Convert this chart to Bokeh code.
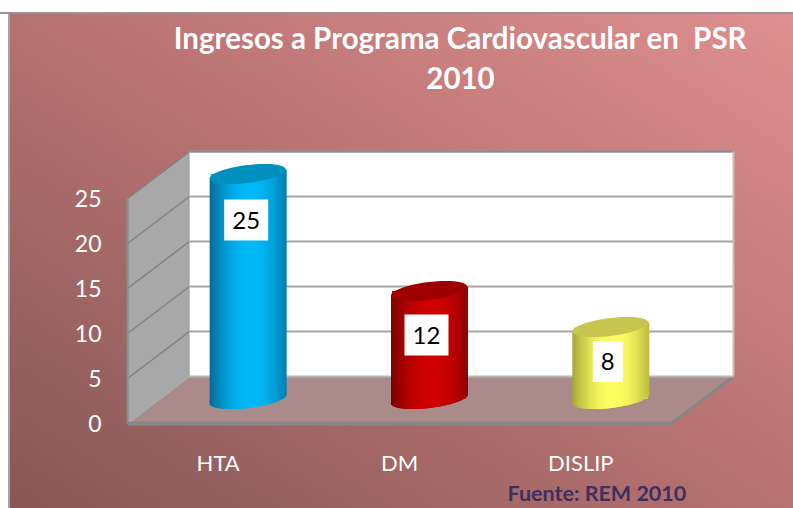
import numpy as np
from bokeh.embed import file_html
from bokeh.resources import INLINE
from bokeh.plotting import figure
from bokeh.models import LinearAxis, FixedTicker, Range1d, Title
from bokeh.core.properties import value

# ---- chart data ----
categories = ["HTA", "DM", "DISLIP"]
ingresos = [25, 12, 8]
y_ticks = [0, 5, 10, 15, 20, 25]
title_lines = ["Ingresos a Programa Cardiovascular en \u00a0PSR", "2010"]
source_note = "Fuente: REM 2010"

# ---- styles ----
edge_colors = [(6, 105, 150), (120, 0, 0), (165, 165, 55)]
lit_colors = [(0, 186, 248), (208, 0, 0), (255, 255, 98)]
cap_colors = ["#0090BE", "#9E0000", "#C6C650"]
label_drop = [2.4, 2.17, 1.11]
label_shift_px = [-1.5, -2.5, -2.5]
label_w_px = [44, 44, 30]
FONT = "Lato"

# ---- pixel scales of the pseudo 3D box ----
UX = 544 / 3      # px per category
UY = 9.0          # px per value unit
DX = 62 / UX      # depth in x units
DY = 47 / UY      # depth in value units
W, H = 793, 508
LEFT, RIGHT, TOP, BOTTOM = 127, W, 14, 423

x_start, y_start = -0.5, 0.0
x_end = x_start + (RIGHT - LEFT) / UX
y_end = (BOTTOM - TOP) / UY
n = len(categories)
x_front_end = x_start + n
y_max = max(y_ticks)

gradient = ("linear-gradient(#fff 0 12px,#949494 12px 14px,transparent 14px),"
            "linear-gradient(to right,#fff 0 8px,#a4a4a4 8px 10px,transparent 10px),"
            "linear-gradient(to top right,#855755 0%,#B67271 50%,#E09090 100%)")

p = figure(width=W, height=H, x_axis_type=None, y_axis_type=None,
           x_range=Range1d(x_start, x_end), y_range=Range1d(y_start, y_end),
           output_backend="svg", toolbar_location=None,
           min_border_left=LEFT, min_border_right=W - RIGHT,
           min_border_top=TOP, min_border_bottom=H - BOTTOM,
           border_fill_color=None, background_fill_color=None,
           outline_line_color=None)
p.styles = {"background": gradient}
p.grid.visible = False

# floor
p.patch([x_start, x_start + DX, x_front_end + DX, x_front_end],
        [0, DY, DY, 0], fill_color="#AB8B89", line_color=None)
# right lip of the floor
p.line([x_front_end, x_front_end + DX], [0, DY], line_color="#8A8583", line_width=3)
# left wall
p.patch([x_start, x_start + DX, x_start + DX, x_start],
        [0, DY, y_max + DY, y_max], fill_color="#A8A8A8", line_color="#8C8C8C", line_width=1.5)
# back wall
p.patch([x_start + DX, x_front_end + DX, x_front_end + DX, x_start + DX],
        [DY, DY, y_max + DY, y_max + DY], fill_color="#FFFFFF", line_color=None)
# walls' gridlines
grid_vals = [t for t in y_ticks if t > 0]
p.segment([x_start] * len(grid_vals), grid_vals, [x_start + DX] * len(grid_vals),
          [t + DY for t in grid_vals], line_color="#808080", line_width=1.3)
p.segment([x_start + DX] * len(grid_vals), [t + DY for t in grid_vals],
          [x_front_end + DX] * len(grid_vals), [t + DY for t in grid_vals],
          line_color="#A6A6A6", line_width=2)
p.line([x_start + DX, x_front_end + DX], [y_max + DY, y_max + DY], line_color="#8C8C8C", line_width=2)
p.line([x_front_end + DX, x_front_end + DX], [DY, y_max + DY], line_color="#D4B8B8", line_width=2)
p.line([x_start, x_start + DX], [0, DY], line_color="#B0B0B0", line_width=1.5)
p.line([x_start + DX, x_front_end + DX], [DY, DY], line_color="#B8B8B8", line_width=2)

# cylinders
A_PX, B_PX, S_PX = 38.0, 9.0, 4.5
cols = np.arange(-A_PX, A_PX, 1.0)
for i, v in enumerate(ingresos):
    cx = i + (DX - 3 / UX) / 2
    t = (cols + 0.5) / A_PX
    shade = np.clip(1 - (np.abs(t - 0.08) / 1.08) ** 2.0, 0, 1)
    e, l = np.array(edge_colors[i]), np.array(lit_colors[i])
    colors = ["#%02x%02x%02x" % tuple(int(c) for c in e + (l - e) * s) for s in shade]
    base = DY / 2 + 1 / UY
    upper = base + v + S_PX * t / UY
    lower = base + (S_PX * t - B_PX * np.sqrt(1 - t ** 2)) / UY
    # opaque backing so that nothing shows through the strips' soft edges
    p.quad(left=[cx + cols[1] / UX], right=[cx + (cols[-1]) / UX], top=[base + v], bottom=[base],
           fill_color=colors[len(colors) // 2], line_color=None, fill_alpha=1.0)
    p.quad(left=cx + cols / UX, right=cx + (cols + 2) / UX, top=upper, bottom=lower,
           fill_color=colors, line_color=None, fill_alpha=1.0)
    th = np.linspace(0, 2 * np.pi, 90)
    p.patch(cx + A_PX * np.cos(th) / UX,
            base + v + (S_PX * np.cos(th) + B_PX * np.sin(th)) / UY,
            fill_color=cap_colors[i], line_color=None)

# value labels
lx = [i + (DX - 3 / UX) / 2 + label_shift_px[i] / UX for i in range(n)]
ly = [ingresos[i] - label_drop[i] for i in range(n)]
p.rect(lx, ly, width=label_w_px, height=[41] * n, width_units="screen", height_units="screen",
       fill_color="#FFFFFF", line_color=None)
p.text(lx, ly, text=[str(v) for v in ingresos], text_align="center", text_baseline="middle",
       text_color="#000000", text_font=value(FONT), text_font_size="24px")

# real axes
yax = LinearAxis(ticker=FixedTicker(ticks=y_ticks), bounds=(0, y_max),
                 axis_line_color="#8C8C8C", axis_line_width=2,
                 major_tick_line_color=None, minor_tick_line_color=None,
                 major_label_standoff=20, major_label_text_color="#FFFFFF",
                 major_label_text_font=FONT, major_label_text_font_size="23px")
p.add_layout(yax, "left")
xax = LinearAxis(ticker=FixedTicker(ticks=list(range(n))), bounds=(x_start, x_front_end),
                 major_label_overrides={i: c for i, c in enumerate(categories)},
                 axis_line_color="#878787", axis_line_width=4,
                 major_tick_line_color=None, minor_tick_line_color=None,
                 major_label_standoff=19, major_label_text_color="#FFFFFF",
                 major_label_text_font=FONT, major_label_text_font_size="22px")
p.add_layout(xax, "below")

# title and source
def xd(px):
    return x_start + (px - LEFT) / UX
def yd(px):
    return (BOTTOM - px) / UY

p.text([xd(460)] * 2, [yd(37), yd(77)], text=title_lines, text_align="center", text_baseline="middle",
       text_color="#FFFFFF", text_font=value(FONT), text_font_style="bold", text_font_size="29.5px")

p.add_layout(Title(text=source_note, align="left", offset=507 - LEFT, standoff=-1, text_color="#3C3060",
                   text_font=FONT, text_font_style="bold", text_font_size="21.5px"), "below")

open("out.html", "w").write(file_html(p, INLINE))
